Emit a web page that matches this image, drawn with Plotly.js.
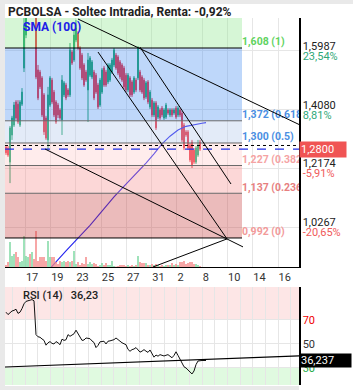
<!DOCTYPE html>
<html><head><meta charset="utf-8">
<script src="https://cdn.plot.ly/plotly-3.0.1.min.js"></script>
<style>html,body{margin:0;padding:0;background:#fff}#chart{width:353px;height:390px}</style>
</head><body><div id="chart"></div>
<script>
// ---- data (bar index along the x axis) ----
const openP = [1.287,1.284,1.238,1.326,1.358,1.433,1.426,1.358,1.426,1.543,
1.650,1.725,1.757,1.738,1.751,1.725,1.537,1.530,1.511,1.456,
1.381,1.310,1.423,1.504,1.465,1.433,1.423,1.407,1.375,1.456,
1.488,1.472,1.456,1.595,1.569,1.634,1.657,1.608,1.585,1.553,
1.530,1.472,1.520,1.514,1.530,1.520,1.488,1.423,1.465,1.543,
1.530,1.498,1.504,1.530,1.553,1.585,1.579,1.563,1.553,1.543,
1.520,1.472,1.511,1.498,1.465,1.504,1.511,1.530,1.514,1.504,
1.449,1.498,1.417,1.439,1.391,1.430,1.384,1.407,1.413,1.381,
1.384,1.407,1.391,1.407,1.397,1.413,1.391,1.407,1.397,1.358,
1.336,1.336,1.293,1.303,1.277,1.238,1.261,1.303];
const highP = [1.293,1.290,1.355,1.388,1.433,1.439,1.439,1.439,1.478,1.747,
1.764,1.780,1.790,1.770,1.764,1.738,1.553,1.537,1.517,1.462,
1.388,1.482,1.517,1.511,1.472,1.439,1.430,1.413,1.520,1.501,
1.495,1.478,1.624,1.602,1.666,1.699,1.663,1.614,1.592,1.559,
1.537,1.592,1.582,1.569,1.537,1.527,1.495,1.511,1.543,1.550,
1.537,1.559,1.559,1.576,1.608,1.592,1.585,1.569,1.559,1.550,
1.527,1.527,1.517,1.504,1.517,1.511,1.614,1.537,1.520,1.511,
1.501,1.504,1.472,1.446,1.436,1.436,1.423,1.413,1.420,1.413,
1.430,1.413,1.413,1.413,1.413,1.420,1.420,1.413,1.404,1.365,
1.342,1.342,1.300,1.310,1.284,1.290,1.310,1.310];
const lowP = [1.261,1.255,1.170,1.310,1.352,1.375,1.362,1.352,1.420,1.530,
1.640,1.712,1.725,1.718,1.712,1.507,1.439,1.475,1.384,1.326,
1.310,1.277,1.417,1.426,1.384,1.362,1.381,1.375,1.326,1.449,
1.439,1.449,1.449,1.553,1.563,1.627,1.602,1.537,1.504,1.482,
1.498,1.368,1.514,1.507,1.439,1.459,1.410,1.417,1.459,1.482,
1.482,1.491,1.498,1.524,1.546,1.537,1.520,1.507,1.498,1.475,
1.465,1.465,1.449,1.449,1.459,1.465,1.504,1.465,1.459,1.439,
1.443,1.426,1.410,1.384,1.384,1.342,1.378,1.375,1.384,1.375,
1.378,1.391,1.384,1.384,1.391,1.378,1.384,1.384,1.303,1.277,
1.320,1.277,1.238,1.219,1.232,1.232,1.255,1.274];
const closeP = [1.268,1.261,1.349,1.381,1.423,1.381,1.368,1.433,1.465,1.683,
1.731,1.757,1.738,1.751,1.725,1.514,1.446,1.482,1.391,1.336,
1.316,1.456,1.511,1.433,1.391,1.368,1.391,1.381,1.504,1.495,
1.446,1.456,1.602,1.559,1.650,1.673,1.608,1.543,1.511,1.488,
1.504,1.569,1.576,1.563,1.446,1.465,1.417,1.504,1.537,1.488,
1.488,1.553,1.553,1.569,1.602,1.543,1.527,1.514,1.504,1.482,
1.472,1.520,1.456,1.456,1.511,1.472,1.608,1.472,1.465,1.446,
1.495,1.433,1.465,1.391,1.430,1.349,1.417,1.381,1.391,1.407,
1.423,1.397,1.407,1.391,1.407,1.384,1.413,1.391,1.310,1.284,
1.326,1.284,1.245,1.229,1.238,1.284,1.293,1.280];
const volume = [20,50,250,110,130,150,100,50,60,310,
110,100,130,150,80,360,60,100,100,100,
60,260,100,100,100,50,30,60,50,60,
50,60,50,60,160,30,50,20,40,30,
100,30,50,30,40,30,10,20,40,20,
40,20,20,60,10,5,10,20,20,20,
10,20,10,20,10,20,110,50,40,40,
40,20,20,30,20,30,20,10,20,10,
20,20,20,40,20,30,20,50,50,60,
30,40,50,50,30,30,20,10];
const smaX = [22,26,30,34,38,42,46,50,54,58,62,66,70,74,78,82,86,90,94,98,100];
const smaY = [0.893,0.920,0.950,0.978,1.005,1.033,1.064,1.096,1.125,1.153,1.180,1.208,1.235,1.265,1.297,1.322,1.342,1.354,1.360,1.364,1.366];
const rsi = [76.5,74.5,76,77.5,78,79,75.5,76.5,79.5,83.5,
85.5,86,86.5,87,86,57.8,56,55.6,54.2,53,
49,51,52,50.5,50,52,51,49.4,54,53,
53.5,57.8,56.4,57.5,58.5,61.5,58.5,55.5,53,53.3,
55,54.7,54.4,52.5,51.2,47,48.8,51.8,52.3,52.3,
50,52.3,52.6,53,53.6,55,53.6,51.7,51,50.2,
49.4,45.5,43.9,45.3,45.8,47,44.8,43.2,44,45.3,
44,43,45,41.5,39,40.8,39.8,41.1,40.2,40,
40.6,41.1,39.8,38.5,40.5,43.5,40.5,37.5,34,31,
30,28.6,27.2,25,27.5,32.8,35.8,36.237,36.237,36.237,36.237];
const fibLevels = [1.608,1.372,1.300,1.227,1.137,0.992];
const fibLabels = ['1,608 (1)','1,372 (0.618)','1,300 (0.5)','1,227 (0.382)','1,137 (0.236)','0,992 (0)'];
const bandEnd = 118;
const lastPrice = 1.2800, prevClose = 1.2919, lastRsi = 36.237;
const priceTicks = [1.5987,1.4080,1.2174,1.0267];
const priceTickTop = ['1,5987','1,4080','1,2174','1,0267'];
const priceTickPct = ['23,54%','8,81%','-5,91%','-20,65%'];
const dateTicks = [9.65,22.29,34.92,47.56,60.19,72.83,85.46,98.10,110.73,123.37,136.0];
const dateLabels = ['17','19','23','25','27','31','2','8','10','14','16'];
const rsiGrid = [3.33,9.65,15.97,22.29,28.6,34.92,41.24,47.56,53.88,60.19,66.51,72.83,79.15,85.46,91.78,98.10,104.42,110.73,117.05,123.37,129.69,136.0,142.32];
const trendlines = [[36,1.702,146.5,1.360],[67,1.611,112.5,1.167],[46,1.595,110.5,0.989],[19.5,1.2805,118.5,0.963],[73.5,0.898,110.5,0.989]];
const rsiTrend = [-0.5,30.8,146.5,40.0];

// ---- styling ----
const W=353,H=390;
const px = v=>v/W, py = v=>1-v/H;
const FONT = 'Roboto, "Open Sans", sans-serif';
const idx = openP.map((_,i)=>i);
const upC='#14a064', dnC='#eb2a3a';
const bandFill = ['rgba(138,229,138,0.35)','rgba(69,141,240,0.35)','rgba(175,198,236,0.35)','rgba(255,200,200,0.35)','rgba(246,141,141,0.35)','rgba(198,60,60,0.35)'];
const fibColor = ['#5fd35f','#4a8fe3','#4a8fe3','#f5a3a3','#e77f7f','#f29a9a'];
const fibLine = ['#000','#6a6a6a','#6a6a6a','#6a6a6a','#6a6a6a','#000'];
const YMIN=0.8979, YMAX=1.7053, XMIN=-0.5, XMAX=146.5;

const traces = [
 {type:'bar', x:idx, y:volume, yaxis:'y3', xaxis:'x', width:0.75,
  marker:{color: idx.map(i=> closeP[i]>=openP[i] ? '#7fd9a3' : '#f58a8a'), line:{width:0}}, hoverinfo:'skip'},
 {type:'candlestick', x:idx, open:openP, high:highP, low:lowP, close:closeP, xaxis:'x', yaxis:'y',
  increasing:{line:{color:upC,width:1}, fillcolor:upC}, decreasing:{line:{color:dnC,width:1}, fillcolor:dnC},
  whiskerwidth:0, hoverinfo:'skip'},
 {type:'scatter', mode:'lines', x:smaX, y:smaY, xaxis:'x', yaxis:'y', line:{color:'#2323f0', width:1.1}, hoverinfo:'skip'},
 {type:'scatter', mode:'text', x:fibLevels.map(()=>bandEnd), y:fibLevels, text:fibLabels, textposition:'top right',
  textfont:{family:FONT, size:10.5, color:fibColor, weight:700}, cliponaxis:true, xaxis:'x', yaxis:'y', hoverinfo:'skip'},
 {type:'scatter', mode:'lines', x:rsi.map((_,i)=>i), y:rsi, xaxis:'x2', yaxis:'y2', line:{color:'#111', width:1}, hoverinfo:'skip'}
];

const shapes = [];
// page edges
shapes.push({type:'rect', xref:'paper', yref:'paper', x0:0, x1:px(5), y0:0, y1:1, fillcolor:'#e9e9e9', line:{width:0}, layer:'below'});
shapes.push({type:'rect', xref:'paper', yref:'paper', x0:0, x1:1, y0:py(4), y1:1, fillcolor:'#e9e9e9', line:{width:0}, layer:'below'});
shapes.push({type:'rect', xref:'paper', yref:'paper', x0:0, x1:px(299), y0:0, y1:py(386), fillcolor:'#e9e9e9', line:{width:0}, layer:'below'});
// fib bands
const bandTops=[YMAX+0.1].concat(fibLevels.slice(0,-1));
fibLevels.forEach((lv,k)=>{
  shapes.push({type:'rect', xref:'x', yref:'y', x0:XMIN, x1:bandEnd, y0:lv, y1:bandTops[k], fillcolor:bandFill[k], line:{width:0}, layer:'above'});
});
fibLevels.forEach((lv,k)=>{
  shapes.push({type:'line', xref:'x', yref:'y', x0:XMIN, x1:bandEnd, y0:lv, y1:lv, line:{color:fibLine[k], width:1}, layer:'above'});
});
shapes.push({type:'line', xref:'x domain', yref:'y', x0:0, x1:1, y0:prevClose, y1:prevClose, line:{color:'#000', width:1, dash:'dot'}, layer:'above'});
shapes.push({type:'line', xref:'x domain', yref:'y', x0:0, x1:1, y0:lastPrice, y1:lastPrice, line:{color:'#1f2fe8', width:1.2, dash:'dash'}, layer:'above'});
trendlines.forEach(t=>shapes.push({type:'line', xref:'x', yref:'y', x0:t[0], y0:t[1], x1:t[2], y1:t[3], line:{color:'#000', width:1}, layer:'above'}));
// RSI zones
shapes.push({type:'rect', xref:'x2 domain', yref:'y2', x0:0, x1:1, y0:70, y1:100, fillcolor:'#fde6e6', line:{width:0}, layer:'below'});
shapes.push({type:'rect', xref:'x2 domain', yref:'y2', x0:0, x1:1, y0:0, y1:30, fillcolor:'#e0fae0', line:{width:0}, layer:'below'});
shapes.push({type:'line', xref:'x2', yref:'y2', x0:rsiTrend[0], y0:rsiTrend[1], x1:rsiTrend[2], y1:rsiTrend[3], line:{color:'#000', width:1.2}, layer:'above'});

const annotations = [
 {xref:'paper', yref:'paper', x:px(6), y:py(12), xanchor:'left', yanchor:'middle', showarrow:false,
  text:'PCBOLSA - Soltec Intradia, Renta: -0,92%', font:{family:FONT, size:12, color:'#222', weight:700}},
 {xref:'paper', yref:'paper', x:px(21), y:py(27), xanchor:'left', yanchor:'middle', showarrow:false,
  text:'SMA (100)', font:{family:FONT, size:12, color:'#2020e8', weight:700}},
 {xref:'paper', yref:'paper', x:px(21), y:py(295), xanchor:'left', yanchor:'middle', showarrow:false,
  text:'RSI (14)&nbsp;&nbsp;&nbsp;36,23', font:{family:FONT, size:11, color:'#222', weight:500}},
 {xref:'paper', yref:'y', x:px(299), y:lastPrice, xanchor:'left', yanchor:'middle', showarrow:false,
  text:'1,2800', bgcolor:'#f05454', width:44, height:13, borderpad:1, align:'left', font:{family:FONT, size:11, color:'#fff'}},
 {xref:'paper', yref:'y2', x:px(299), y:lastRsi, xanchor:'left', yanchor:'middle', showarrow:false,
  text:'36,237', bgcolor:'#000', width:49, height:11, borderpad:1, align:'left', font:{family:FONT, size:11, color:'#fff'}}
];

const layout = {
 width:W, height:H, margin:{l:0,r:0,t:0,b:0}, paper_bgcolor:'#fff', plot_bgcolor:'#fff', showlegend:false,
 font:{family:FONT, size:11, color:'#222'},
 xaxis:{domain:[px(5),px(299)], range:[XMIN,XMAX], anchor:'y', tickvals:dateTicks, ticktext:dateLabels,
   ticklabelposition:'outside right', ticks:'', showgrid:true, gridcolor:'#e6e6e6', gridwidth:1, zeroline:false,
   showline:true, linecolor:'#000', linewidth:1.2, rangeslider:{visible:false}, tickfont:{size:11, color:'#333'}, fixedrange:true},
 yaxis:{domain:[py(267),py(18)], range:[YMIN,YMAX], side:'right', anchor:'x', tickvals:priceTicks, ticktext:priceTickTop,
   ticklabelshift:-5, ticks:'', showgrid:true, gridcolor:'#e6e6e6', zeroline:false, showline:true, linecolor:'#000', linewidth:1.5,
   tickfont:{size:11, color:'#222'}, fixedrange:true},
 yaxis4:{overlaying:'y', range:[YMIN,YMAX], side:'right', anchor:'x', tickvals:priceTicks,
   ticktext: priceTicks.map((v,k)=> '<span style="color:'+(v>=prevClose?'#2fa878':'#f05a5a')+'">'+priceTickPct[k]+'</span>'),
   ticklabelshift:5, ticks:'', showgrid:false, zeroline:false, showline:true, linecolor:'rgba(0,0,0,0)', linewidth:1.5,
   tickfont:{size:11}, fixedrange:true},
 yaxis3:{overlaying:'y', range:[0,2490], visible:false, anchor:'x', fixedrange:true},
 xaxis2:{domain:[px(5),px(299)], range:[XMIN,XMAX], anchor:'y2', tickvals:rsiGrid, showticklabels:false, ticks:'',
   showgrid:true, gridcolor:'#e6e6e6', zeroline:false, showline:false, fixedrange:true},
 yaxis2:{domain:[py(385),py(287)], range:[15.8,97.5], side:'right', anchor:'x2', tickvals:[70,50,30],
   ticktext:['<span style="color:#f00000">70</span>','50','<span style="color:#22aa44">30</span>'],
   ticks:'', showgrid:true, gridcolor:'#e6e6e6', zeroline:false, showline:true, linecolor:'#000', linewidth:1.5,
   tickfont:{size:11, color:'#333'}, fixedrange:true},
 shapes:shapes, annotations:annotations
};
// an invisible trace so that the percentage axis is drawn
traces.push({type:'scatter', mode:'none', x:[XMIN], y:[YMIN], xaxis:'x', yaxis:'y4', hoverinfo:'skip', showlegend:false});
Plotly.newPlot('chart', traces, layout, {staticPlot:true, displayModeBar:false});
</script></body></html>
